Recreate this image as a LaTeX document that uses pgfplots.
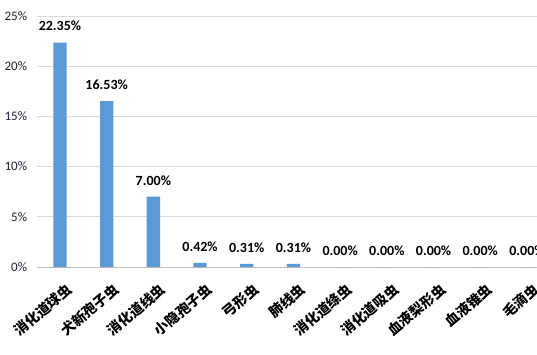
\documentclass[border=0pt]{standalone}
\usepackage{pgfplots}
\pgfplotsset{compat=1.18}
\usepackage{fontspec}
\setmainfont{Carlito}
\newfontfamily\cjk{Noto Sans CJK SC}
\definecolor{barblue}{HTML}{5B9BD5}
\definecolor{gridgray}{HTML}{D9D9D9}
\definecolor{axisgray}{HTML}{BFBFBF}
\definecolor{ticktext}{RGB}{30,30,55}
\begin{document}
\begin{tikzpicture}[x=1pt,y=1pt]
\begin{axis}[
  at={(0pt,0pt)}, anchor=south west,
  scale only axis,
  width=513.7pt, height=251pt,
  xmin=-0.5, xmax=10.5,
  ymin=0, ymax=25,
  ytick={0,5,10,15,20,25},
  yticklabels={0\%,5\%,10\%,15\%,20\%,25\%},
  xtick=data,
  xticklabels={消化道球虫,犬新孢子虫,消化道线虫,小隐孢子虫,弓形虫,肺线虫,消化道绦虫,消化道吸虫,血液梨形虫,血液锥虫,毛滴虫},
  major tick length=0pt,
  axis x line*=bottom, axis y line*=left,
  x axis line style={draw=axisgray, line width=0.8pt, -},
  y axis line style={draw=none},
  ymajorgrids, grid style={draw=gridgray, line width=0.8pt},
  /pgf/number format/assume math mode=true,
  yticklabel style={font=\fontsize{13}{13}\selectfont, text=ticktext, anchor=east, xshift=-6pt},
  xticklabel style={font=\cjk\bfseries\fontsize{14}{14}\selectfont, xshift=10pt, yshift=-20pt, rotate=40, anchor=east, inner sep=0pt},
  ybar, bar width=13.3pt,
  nodes near coords={\pgfmathprintnumber[fixed,fixed zerofill,precision=2]{\pgfplotspointmeta}\%},
  nodes near coords style={font=\bfseries\fontsize{14}{14}\selectfont, text=black, yshift=8pt},
  clip=false,
]
\addplot[fill=barblue, draw=none] coordinates {
(0,22.35) (1,16.53) (2,7.00) (3,0.42) (4,0.31) (5,0.31) (6,0) (7,0) (8,0) (9,0) (10,0)};
\end{axis}
\pgfresetboundingbox
\path[use as bounding box] (-36.6pt,-87pt) rectangle (500.4pt,267pt);
\end{tikzpicture}
\end{document}
